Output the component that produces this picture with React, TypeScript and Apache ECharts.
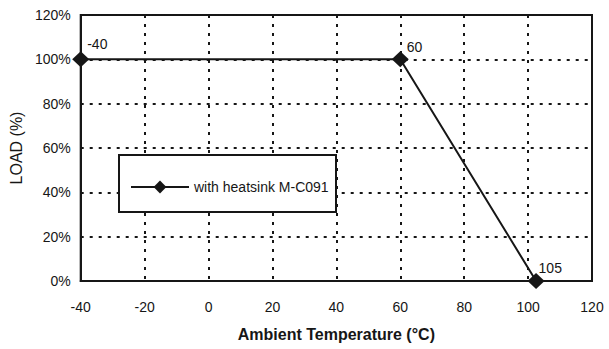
import React, { useEffect, useRef } from "react";
import * as echarts from "echarts";

const temps = [-40, 60, 102.5];
const loads = [100, 100, 0];
const pointLabels = ["-40", "60", "105"];
const xTicks = [-40, -20, 0, 20, 40, 60, 80, 100, 120];
const yTicks = [0, 20, 40, 60, 80, 100, 120];
const seriesName = "with heatsink M-C091";
const labelOffsets = [
  [-7, -15],
  [-7, -12],
  [-11, -13],
];

const INK = "#161616";
const FONT = "'Liberation Sans', Arial, sans-serif";

export default function App() {
  const ref = useRef<HTMLDivElement>(null);
  useEffect(() => {
    if (!ref.current) return;
    const chart = echarts.init(ref.current, null, { renderer: "svg" });
    const data = temps.map((t, i) => ({
      value: [t, loads[i]],
      label: {
        show: true,
        position: "right",
        offset: labelOffsets[i],
        formatter: pointLabels[i],
      },
    }));
    chart.setOption({
      animation: false,
      backgroundColor: "#ffffff",
      textStyle: { fontFamily: FONT },
      grid: {
        left: 80,
        right: 17,
        top: 15,
        bottom: 68,
        show: true,
        borderColor: INK,
        borderWidth: 2,
        backgroundColor: "transparent",
      },
      xAxis: {
        type: "value",
        min: xTicks[0],
        max: xTicks[xTicks.length - 1],
        interval: 20,
        name: "Ambient Temperature (°C)",
        nameLocation: "middle",
        nameGap: 45,
        nameTextStyle: { fontSize: 16, fontWeight: "bold", color: INK, fontFamily: FONT },
        axisLine: { show: true, onZero: false, lineStyle: { color: INK, width: 2 } },
        axisTick: { show: false },
        axisLabel: { fontSize: 14, color: INK, margin: 19, fontFamily: FONT },
        splitLine: { show: true, lineStyle: { color: INK, width: 2, type: [3, 6] } },
      },
      yAxis: {
        type: "value",
        min: yTicks[0],
        max: yTicks[yTicks.length - 1],
        interval: 20,
        name: "LOAD (%)",
        nameLocation: "middle",
        nameGap: 50,
        nameTextStyle: { fontSize: 16, color: INK, fontFamily: FONT },
        axisLine: { show: true, onZero: false, lineStyle: { color: INK, width: 2 } },
        axisTick: { show: false },
        axisLabel: { fontSize: 14, color: INK, margin: 10, formatter: "{value}%", fontFamily: FONT },
        splitLine: { show: true, lineStyle: { color: INK, width: 2, type: [3, 6] } },
      },
      graphic: [
        {
          type: "rect",
          z: 3,
          shape: { x: 119, y: 155, width: 217, height: 57 },
          style: { fill: "#ffffff", stroke: INK, lineWidth: 2 },
        },
      ],
      legend: {
        show: true,
        z: 5,
        left: 130,
        top: 180,
        padding: 0,
        itemWidth: 58,
        itemHeight: 16,
        itemGap: 5,
        textStyle: { fontSize: 14, color: INK, fontFamily: FONT },
        data: [seriesName],
      },
      series: [
        {
          name: seriesName,
          type: "line",
          data,
          symbol: "diamond",
          symbolSize: [17, 16],
          itemStyle: { color: INK },
          lineStyle: { color: INK, width: 2 },
          label: { fontSize: 14, color: INK, fontFamily: FONT },
          z: 4,
        },
      ],
    });
    return () => chart.dispose();
  }, []);
  return <div ref={ref} style={{ width: 609, height: 349, position: "absolute", left: 0, top: 0 }} />;
}
